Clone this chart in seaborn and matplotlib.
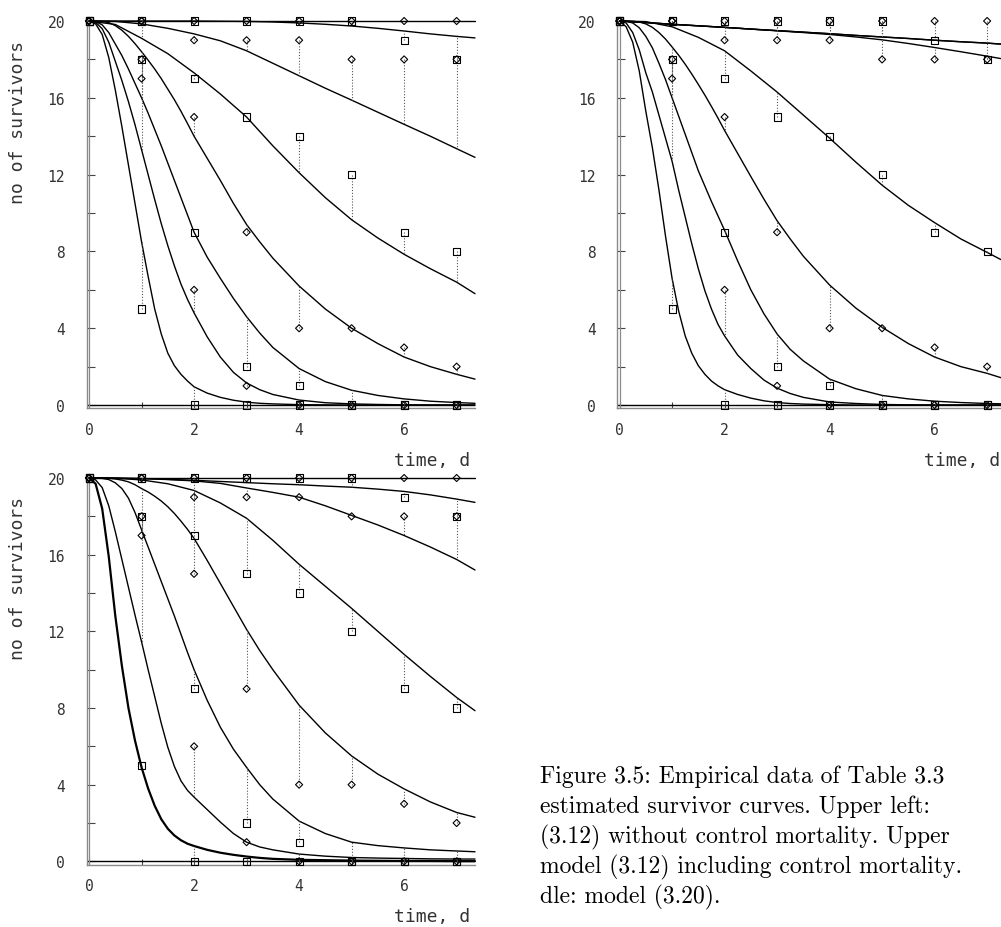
import numpy as np
import pandas as pd
import matplotlib
matplotlib.use("Agg")
import matplotlib.pyplot as plt
import seaborn as sns

# ---------------- data -----------------
times = [0, 1, 2, 3, 4, 5, 6, 7]
series_names = ["control", "conc1", "conc2", "conc3", "conc4", "conc5", "conc6", "conc7"]
series_marker = ["diamond", "square", "diamond", "square", "diamond", "square", "diamond", "square"]

obs_control = [20, 20, 20, 20, 20, 20, 20, 20]
obs_conc1 = [20, 20, 20, 20, 20, 20, 19, 18]
obs_conc2 = [20, 20, 19, 19, 19, 18, 18, 18]
obs_conc3 = [20, 20, 17, 15, 14, 12, 9, 8]
obs_conc4 = [20, 17, 15, 9, 4, 4, 3, 2]
obs_conc5 = [20, 18, 9, 2, 1, 0, 0, 0]
obs_conc6 = [20, 18, 6, 1, 0, 0, 0, 0]
obs_conc7 = [20, 5, 0, 0, 0, 0, 0, 0]
observed = [obs_control, obs_conc1, obs_conc2, obs_conc3,
            obs_conc4, obs_conc5, obs_conc6, obs_conc7]

t_slow = [0, 0.5, 1, 1.5, 2, 2.5, 3, 3.5, 4, 4.5, 5, 5.5, 6, 6.5, 7, 7.35]
t_fast = [0, 0.125, 0.25, 0.375, 0.5, 0.625, 0.75, 0.875, 1, 1.125, 1.25, 1.375,
          1.5, 1.625, 1.75, 1.875, 2, 2.25, 2.5, 2.75, 3, 3.25, 3.5,
          4, 4.5, 5, 5.5, 6, 6.5, 7, 7.35]

# upper left: model (3.12) without control mortality
ul_slow = [
    [20] * 16,
    [20, 20, 20, 20, 20, 19.99, 19.98, 19.95, 19.9, 19.83, 19.74, 19.62, 19.48, 19.33, 19.2, 19.12],
    [20, 19.98, 19.85, 19.62, 19.33, 18.97, 18.45, 17.8, 17.15, 16.5, 15.88, 15.25, 14.62, 14.0, 13.35, 12.9],
    [20, 19.82, 19.1, 18.3, 17.3, 16.2, 15.0, 13.5, 12.1, 10.8, 9.65, 8.7, 7.85, 7.1, 6.4, 5.8],
]
ul_fast = [
    [20, 20, 19.98, 19.92, 19.76, 19.52, 19.2, 18.82, 18.4, 17.96, 17.5, 17.0, 16.45, 15.9, 15.3, 14.66,
     14.0, 12.85, 11.7, 10.5, 9.4, 8.5, 7.65, 6.2, 5.0, 4.0, 3.2, 2.5, 2.0, 1.6, 1.35],
    [20, 19.97, 19.8, 19.4, 18.8, 18.2, 17.5, 16.75, 16.0, 15.2, 14.35, 13.5, 12.6, 11.7, 10.8, 9.9,
     9.0, 7.7, 6.6, 5.55, 4.6, 3.75, 3.0, 1.9, 1.22, 0.77, 0.5, 0.32, 0.2, 0.13, 0.09],
    [20, 19.93, 19.6, 18.9, 17.9, 16.9, 15.8, 14.6, 13.3, 12.0, 10.7, 9.45, 8.3, 7.25, 6.3, 5.5,
     4.8, 3.55, 2.5, 1.7, 1.15, 0.8, 0.55, 0.26, 0.12, 0.06, 0.03, 0.01, 0, 0, 0],
    [20, 19.85, 19.3, 18.1, 16.4, 14.5, 12.5, 10.5, 8.5, 6.7, 5.0, 3.7, 2.7, 2.05, 1.6, 1.25,
     0.95, 0.62, 0.4, 0.25, 0.15, 0.09, 0.06, 0.02, 0.01, 0, 0, 0, 0, 0, 0],
]

# upper right: model (3.12) including control mortality
ur_slow = [
    [20, 19.92, 19.83, 19.75, 19.67, 19.58, 19.5, 19.42, 19.34, 19.25, 19.17, 19.09, 19.0, 18.92, 18.85, 18.78],
    [20, 19.92, 19.83, 19.75, 19.67, 19.58, 19.5, 19.42, 19.34, 19.25, 19.17, 19.09, 19.0, 18.92, 18.85, 18.78],
    [20, 19.92, 19.83, 19.75, 19.67, 19.58, 19.49, 19.4, 19.3, 19.17, 19.02, 18.83, 18.62, 18.4, 18.17, 18.0],
    [20, 19.97, 19.7, 19.15, 18.45, 17.4, 16.3, 15.1, 13.9, 12.65, 11.45, 10.4, 9.5, 8.65, 7.95, 7.45],
]
ur_fast = [
    [20, 20, 19.99, 19.95, 19.85, 19.67, 19.4, 19.06, 18.65, 18.22, 17.75, 17.24, 16.7, 16.14, 15.55, 14.94,
     14.3, 13.1, 11.9, 10.72, 9.6, 8.65, 7.75, 6.25, 5.05, 4.05, 3.2, 2.5, 2.0, 1.65, 1.35],
    [20, 19.99, 19.9, 19.65, 19.2, 18.6, 17.8, 16.95, 16.0, 15.05, 14.1, 13.15, 12.2, 11.4, 10.6, 9.85,
     9.1, 7.5, 6.0, 4.75, 3.7, 2.9, 2.3, 1.35, 0.85, 0.5, 0.32, 0.2, 0.13, 0.08, 0.06],
    [20, 19.9, 19.4, 18.5, 17.3, 16.3, 15.1, 13.9, 12.7, 11.2, 9.8, 8.4, 7.1, 5.95, 5.0, 4.2,
     3.6, 2.6, 1.9, 1.3, 0.88, 0.6, 0.4, 0.16, 0.08, 0.03, 0.01, 0, 0, 0, 0],
    [20, 19.7, 18.9, 17.4, 15.3, 13.4, 11.2, 8.8, 6.6, 4.9, 3.6, 2.7, 2.05, 1.6, 1.25, 1.0,
     0.8, 0.55, 0.36, 0.22, 0.13, 0.08, 0.05, 0.02, 0, 0, 0, 0, 0, 0, 0],
]

# lower left: model (3.20)
ll_slow = [
    [20] * 16,
    [20, 19.99, 19.97, 19.93, 19.88, 19.82, 19.76, 19.7, 19.65, 19.58, 19.52, 19.42, 19.3, 19.12, 18.9, 18.73],
    [20, 20, 19.97, 19.92, 19.85, 19.72, 19.48, 19.25, 19.0, 18.55, 18.05, 17.55, 17.0, 16.4, 15.75, 15.2],
    [20, 19.99, 19.9, 19.7, 19.35, 18.7, 17.9, 16.75, 15.5, 14.35, 13.2, 12.0, 10.8, 9.65, 8.55, 7.86],
]
ll_fast = [
    [20, 20, 20, 19.99, 19.95, 19.89, 19.8, 19.65, 19.45, 19.27, 19.05, 18.8, 18.5, 18.15, 17.75, 17.32,
     16.85, 15.7, 14.5, 13.3, 12.1, 11.0, 10.0, 8.15, 6.7, 5.5, 4.55, 3.78, 3.1, 2.55, 2.3],
    [20, 20, 19.98, 19.92, 19.75, 19.45, 18.95, 18.2, 17.3, 16.4, 15.5, 14.6, 13.7, 12.8, 11.85, 10.9,
     10.0, 8.4, 7.0, 5.85, 4.9, 4.0, 3.25, 2.1, 1.45, 1.0, 0.82, 0.7, 0.6, 0.54, 0.5],
    [20, 19.9, 19.5, 18.55, 17.2, 15.75, 14.3, 12.85, 11.45, 10.0, 8.6, 7.2, 5.95, 4.95, 4.2, 3.7,
     3.35, 2.7, 2.05, 1.45, 1.0, 0.75, 0.6, 0.38, 0.27, 0.2, 0.17, 0.15, 0.13, 0.12, 0.12],
    [20, 19.7, 18.4, 15.9, 12.8, 10.2, 8.0, 6.3, 4.9, 3.8, 2.9, 2.2, 1.7, 1.35, 1.1, 0.92,
     0.8, 0.6, 0.45, 0.34, 0.25, 0.18, 0.13, 0.08, 0.06, 0.04, 0.03, 0.02, 0.02, 0.01, 0.01],
]

y_ticks = [0, 2, 4, 6, 8, 10, 12, 14, 16, 18, 20]
y_ticklabels = ["0", "", "4", "", "8", "", "12", "", "16", "", "20"]
x_ticks = [0, 1, 2, 3, 4, 5, 6, 7]
x_ticklabels = ["0", "", "2", "", "4", "", "6", ""]
x_label = "time, d"
y_label = "no of survivors"
caption_lines = [
    "Figure 3.5: Empirical data of Table 3.3",
    "estimated survivor curves. Upper left:",
    "(3.12) without control mortality. Upper",
    "model (3.12) including control mortality.",
    "dle: model (3.20).",
]

# ---------------- style -----------------
sns.set_style("white")
plt.rcParams["font.family"] = ["DejaVu Sans Mono", "DejaVu Sans"]

W, H = 1001, 928
fig = plt.figure(figsize=(W / 100, H / 100), dpi=100)

XLIM = (-0.045, 7.35)
YLIM = (-0.17, 20.1)
TICK_COLOR = "#333333"
SPINE_COLOR = "#8a8a8a"


def frac_box(left_px, right_px, top_px, bottom_px):
    return [left_px / W, 1 - bottom_px / H, (right_px - left_px) / W, (bottom_px - top_px) / H]


def draw_panel(ax, slow, fast, with_ylabel, bold_last=False):
    curves = [(t_slow, v) for v in slow] + [(t_fast, v) for v in fast]

    # fitted curves
    for k, (tg, vals) in enumerate(curves):
        lw = 1.6 if (bold_last and k == len(curves) - 1) else 1.0
        sns.lineplot(x=tg, y=vals, color="black", lw=lw, sort=False,
                     estimator=None, legend=False, ax=ax)
    for ln in ax.get_lines():
        ln.set_clip_on(False)

    # dotted connectors between observed and fitted values
    for obs, (tg, vals) in zip(observed, curves):
        fitted = [vals[tg.index(t)] for t in times]
        ax.vlines(times, obs, fitted, colors="#555555", lw=0.8,
                  linestyles=(0, (1, 1.6)), zorder=2)

    # observations
    rows = []
    for name, kind, obs in zip(series_names, series_marker, observed):
        for t, v in zip(times, obs):
            rows.append((name, kind, t, v))
    dfo = pd.DataFrame(rows, columns=["series", "kind", "t", "n"])
    sns.scatterplot(data=dfo[dfo.kind == "square"], x="t", y="n", marker="s", s=26,
                    facecolors="none", edgecolor="black", linewidth=0.8,
                    legend=False, clip_on=False, zorder=4, ax=ax)
    sns.scatterplot(data=dfo[dfo.kind == "diamond"], x="t", y="n", marker="D", s=13,
                    facecolors="none", edgecolor="black", linewidth=0.8,
                    legend=False, clip_on=False, zorder=4, ax=ax)

    ax.set_xlim(*XLIM)
    ax.set_ylim(*YLIM)
    ax.axhline(0, color="black", lw=1.0, zorder=1)
    ax.axvline(0, color=SPINE_COLOR, lw=0.9, zorder=1)
    for s in ("top", "right"):
        ax.spines[s].set_visible(False)
    for s in ("left", "bottom"):
        ax.spines[s].set_color(SPINE_COLOR)
        ax.spines[s].set_linewidth(1.0)

    ax.set_yticks(y_ticks)
    ax.set_yticklabels(y_ticklabels)
    ax.set_xticks(x_ticks)
    ax.set_xticklabels(x_ticklabels)
    ax.tick_params(axis="y", direction="in", length=6, width=0.8, color="#444444",
                   pad=15.5, labelsize=10.5, labelcolor=TICK_COLOR, left=True)
    ax.tick_params(axis="x", direction="in", length=4.5, width=0.8, color="#444444",
                   pad=10, labelsize=10.5, labelcolor=TICK_COLOR, bottom=True)

    ax.set_xlabel(x_label, fontsize=13, color=TICK_COLOR, ha="right", va="center")
    ax.xaxis.set_label_coords(0.987, -0.133)
    if with_ylabel:
        ax.set_ylabel(y_label, fontsize=13, color=TICK_COLOR, va="center", ha="center")
        ax.yaxis.set_label_coords(-0.177, 0.738)
    else:
        ax.set_ylabel("")
    ax.set_facecolor("none")


ax_ul = fig.add_axes(frac_box(86.7, 475.0, 20.1, 409.3))
ax_ur = fig.add_axes(frac_box(617.2, 1005.5, 20.1, 409.3))
ax_ll = fig.add_axes(frac_box(86.7, 475.0, 477.1, 865.6))

draw_panel(ax_ul, ul_slow, ul_fast, True)
draw_panel(ax_ur, ur_slow, ur_fast, False)
draw_panel(ax_ll, ll_slow, ll_fast, True, bold_last=True)

for i, line in enumerate(caption_lines):
    fig.text(540 / W, 1 - (783 + 30 * i) / H, line, family="cmr10", fontsize=17,
             ha="left", va="baseline", color="black")

fig.savefig("out.png", dpi=100)
